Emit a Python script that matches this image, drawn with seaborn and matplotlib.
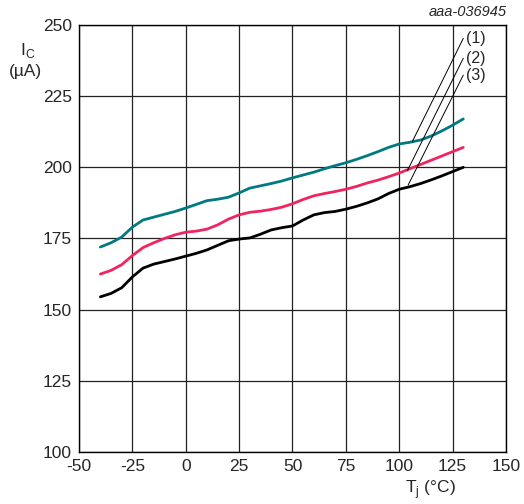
import numpy as np
import pandas as pd
import seaborn as sns
import matplotlib.pyplot as plt

temp = [-40, -35, -30, -25, -20, -15, -10, -5, 0, 5, 10, 15, 20, 25, 30, 35, 40, 45,
        50, 55, 60, 65, 70, 75, 80, 85, 90, 95, 100, 105, 110, 115, 120, 125, 130]
ic_1 = [172, 173.5, 175.5, 179, 181.5, 182.5, 183.5, 184.5, 185.7, 187, 188.3, 188.8,
        189.5, 191, 192.7, 193.5, 194.3, 195.2, 196.3, 197.3, 198.3, 199.5, 200.6, 201.6,
        202.8, 204.1, 205.5, 207, 208.2, 208.8, 209.6, 211, 212.8, 214.8, 217]
ic_2 = [162.5, 163.8, 165.8, 169, 171.8, 173.5, 175, 176.3, 177.2, 177.6, 178.3, 179.8,
        181.8, 183.3, 184.2, 184.6, 185.2, 186, 187.2, 188.7, 190, 190.8, 191.5, 192.3,
        193.3, 194.5, 195.5, 196.7, 198, 199.5, 201, 202.5, 204, 205.5, 207]
ic_3 = [154.5, 155.7, 157.7, 161.5, 164.6, 166, 166.9, 167.8, 168.8, 169.8, 171, 172.6,
        174.2, 174.8, 175.2, 176.5, 178, 178.8, 179.4, 181.5, 183.3, 184.1, 184.5, 185.3,
        186.3, 187.5, 188.9, 190.8, 192.3, 193.2, 194.3, 195.6, 197, 198.5, 200]
labels = ['(1)', '(2)', '(3)']
colors = ['#007a80', '#f0245e', '#000000']
# label heights and the point on each curve the leader line goes to
label_y = [245.3, 238.3, 232.4]
curve_pt = [(106.1, 209.0), (103.8, 198.8), (104.2, 193.8)]

df = pd.DataFrame({'Tj': temp * 3,
                   'Ic': ic_1 + ic_2 + ic_3,
                   'curve': [labels[0]] * len(temp) + [labels[1]] * len(temp) + [labels[2]] * len(temp)})

sns.set_style("white")
plt.rcParams['font.family'] = ['Liberation Sans', 'DejaVu Sans']
plt.rcParams['axes.unicode_minus'] = False

fig = plt.figure(figsize=(5.24, 5.04), dpi=100)
ax = fig.add_axes([0.1508, 0.1032, 0.8148, 0.8472])

sns.lineplot(data=df, x='Tj', y='Ic', hue='curve', palette=colors,
             linewidth=2, legend=False, ax=ax)

for lab, ly, (cx, cy) in zip(labels, label_y, curve_pt):
    ax.plot([130, cx], [ly, cy], color='black', linewidth=0.7)
    ax.text(131.5, ly, lab, fontsize=11.5, ha='left', va='center')

ax.set_xlim(-50, 150)
ax.set_ylim(100, 250)
ax.set_xticks(np.arange(-50, 151, 25))
ax.set_yticks(np.arange(100, 251, 25))
ax.grid(True, color='#222222', linewidth=0.9)
ax.tick_params(length=0, labelsize=12.5, pad=5)
for s in ax.spines.values():
    s.set_color('black')
    s.set_linewidth(1)

ax.set_xlabel('')
ax.set_ylabel('')
fig.text(430 / 524, 1 - 490 / 504, r'T$_\mathregular{j}$ (°C)', fontsize=12.5, ha='center', va='center')
fig.text(28 / 524, 1 - 50 / 504, r'I$_\mathregular{C}$', fontsize=12.5, ha='center', va='center')
fig.text(25 / 524, 1 - 72 / 504, '(µA)', fontsize=12.5, ha='center', va='center')
fig.text(507 / 524, 1 - 12 / 504, 'aaa-036945', fontsize=10.5, style='italic', ha='right', va='center')

plt.savefig('out.png', dpi=100)
